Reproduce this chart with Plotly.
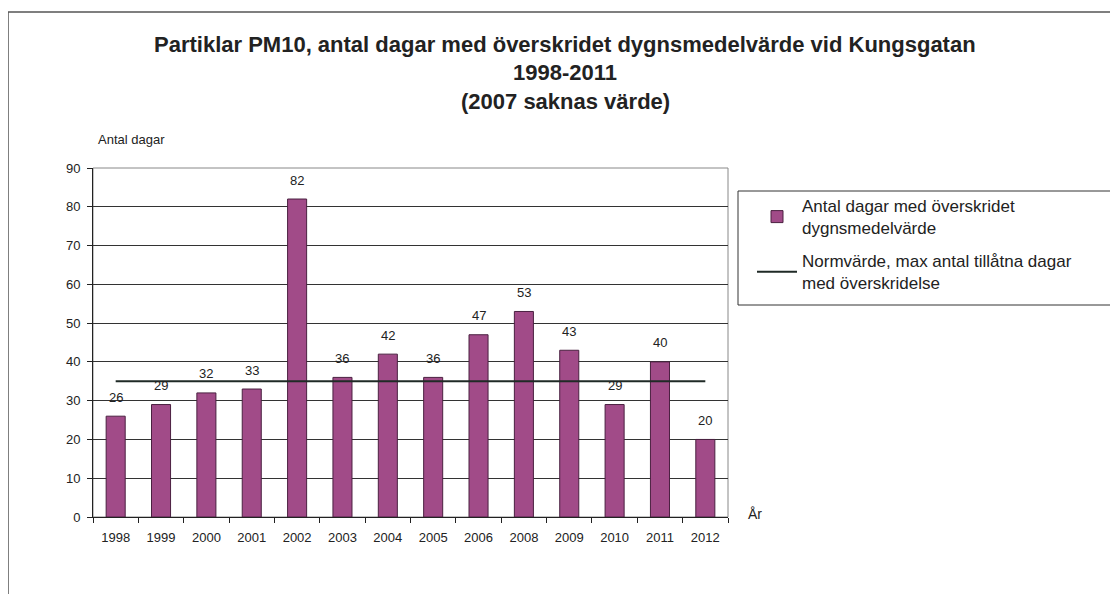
import plotly.graph_objects as go

years = ['1998', '1999', '2000', '2001', '2002', '2003', '2004', '2005',
         '2006', '2008', '2009', '2010', '2011', '2012']
days_exceeded = [26, 29, 32, 33, 82, 36, 42, 36, 47, 53, 43, 29, 40, 20]
norm_value = [35] * len(years)

title_lines = [
    'Partiklar PM10, antal dagar med överskridet dygnsmedelvärde vid Kungsgatan',
    '1998-2011',
    '(2007 saknas värde)',
]

# the page has an 8px body margin, so positions below are page pixels minus 8
OFF = 8
W, H = 1110, 586
L, R, T, B = 93 - OFF, 728 - OFF, 168 - OFF, 517 - OFF
font = 'Liberation Sans, Arial, sans-serif'


def px_x(x):
    return (x - OFF - L) / (R - L)


def px_y(y):
    return (B - (y - OFF)) / (B - T)


fig = go.Figure()

fig.add_trace(go.Bar(
    x=years, y=days_exceeded,
    name='Antal dagar med överskridet<br>dygnsmedelvärde',
    legendgroup='bars',
    marker=dict(color='#a14b88', line=dict(color='#4a2040', width=1)),
    width=0.42,
))

fig.add_trace(go.Scatter(
    x=years, y=norm_value, mode='lines',
    name='Normvärde, max antal tillåtna dagar<br>med överskridelse',
    legendgroup='norm',
    line=dict(color='#1f2a26', width=2),
))

annotations = []
# category axis: numeric-looking names would be read as indices, so use the index
for i, v in enumerate(days_exceeded):
    annotations.append(dict(
        x=i, y=v, text=str(v), showarrow=False, yanchor='middle', yshift=19,
        font=dict(size=13, color='#222'),
    ))

title_y = [44, 72, 102]
for txt, yp in zip(title_lines, title_y):
    annotations.append(dict(
        xref='paper', yref='paper', x=px_x(565), y=px_y(yp), text='<b>' + txt + '</b>',
        showarrow=False, xanchor='center', yanchor='middle',
        font=dict(size=22, color='#222'),
    ))

annotations.append(dict(
    xref='paper', yref='paper', x=px_x(96), y=px_y(140), text='Antal dagar',
    showarrow=False, xanchor='left', yanchor='middle', font=dict(size=13, color='#222'),
))
annotations.append(dict(
    xref='paper', yref='paper', x=px_x(746), y=px_y(514), text='År',
    showarrow=False, xanchor='left', yanchor='middle', font=dict(size=14, color='#222'),
))

shapes = [
    dict(type='rect', xref='paper', yref='paper',
         x0=px_x(8), x1=px_x(1116), y0=px_y(640), y1=px_y(12),
         line=dict(color='#555', width=1.5), layer='below'),
    dict(type='rect', xref='paper', yref='paper', x0=0, x1=1, y0=0, y1=1,
         line=dict(color='#888', width=1), layer='below'),
    # legend frame, running off the right edge like the reference
    dict(type='rect', xref='paper', yref='paper',
         x0=px_x(738), x1=px_x(1130), y0=px_y(305), y1=px_y(191),
         line=dict(color='#333', width=1), layer='below'),
]

fig.update_layout(
    width=W, height=H,
    margin=dict(l=L, r=W - R, t=T, b=H - B),
    paper_bgcolor='white', plot_bgcolor='white',
    font=dict(family=font, color='#222'),
    showlegend=True,
    legend=dict(
        x=px_x(752), y=px_y(188), xanchor='left', yanchor='top',
        borderwidth=0, bgcolor='rgba(0,0,0,0)', itemwidth=40,
        traceorder='grouped', tracegroupgap=8,
        font=dict(size=17, color='#222'),
    ),
    annotations=annotations,
    shapes=shapes,
)

fig.update_xaxes(
    type='category', range=[-0.5, len(years) - 0.5],
    tickson='boundaries', ticks='outside', ticklen=5, tickangle=0,
    ticklabelstandoff=8,
    tickcolor='#222', showline=True, linecolor='#222', linewidth=1,
    showgrid=False, tickfont=dict(size=13, color='#222'),
)
fig.update_yaxes(
    range=[0, 90], dtick=10, ticks='outside', ticklen=5, tickcolor='#222',
    ticklabelstandoff=4,
    showline=True, linecolor='#222', linewidth=1,
    showgrid=True, gridcolor='#333', gridwidth=1, zeroline=False,
    tickfont=dict(size=13, color='#222'),
)

fig.write_html('out.html')
